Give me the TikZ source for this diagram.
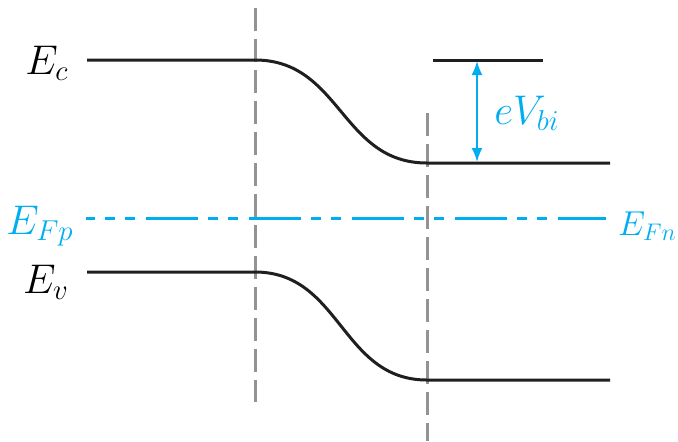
\documentclass[tikz,border=0pt]{standalone}
\usepackage{amsmath,amssymb}
\usepackage{tikz}
\usetikzlibrary{arrows.meta,calc,positioning}
\definecolor{bandblue}{RGB}{0,174,239}

\begin{document}
\begin{tikzpicture}[x=0.5pt, y=-0.5pt,
  level/.style={line width=1.5pt, black!88},
  border/.style={line width=1.5pt, gray!85, dash pattern=on 11.5pt off 4pt},
  fermi/.style={line width=1.5pt, bandblue, dash pattern=on 26pt off 5pt on 5pt off 5pt on 5pt off 5.5pt, dash phase=21.5pt},
  lbl/.style={font=\fontsize{20}{24}\selectfont, inner sep=0pt}]
\useasboundingbox (0,0) rectangle (678,441);

% Diagramma a bande della giunzione pn
\coordinate (ec0) at (87,60);   \coordinate (ec1) at (255,60);
\coordinate (ec2) at (427,163); \coordinate (ec3) at (610,163);
\coordinate (ev0) at (87,272);  \coordinate (ev1) at (255,272);
\coordinate (ev2) at (427,380); \coordinate (ev3) at (610,380);
\coordinate (en0) at (433,60);  \coordinate (en1) at (543,60);
\coordinate (ef0) at (86,218);  \coordinate (ef1) at (606,218);

\draw[border] (255,8) -- (255,402);
\draw[border] (427,113) -- (427,441);

\draw[level] (ec0) -- (ec1) .. controls (341,60) and (341,163) .. (ec2) -- (ec3);
\draw[level] (ev0) -- (ev1) .. controls (341,272) and (341,380) .. (ev2) -- (ev3);
\draw[level] (en0) -- (en1);
\draw[fermi] (ef0) -- (ef1);

\draw[{Latex[length=7pt,width=5.5pt]}-{Latex[length=7pt,width=5.5pt]}, line width=1pt, bandblue]
  (477,61) -- (477,162);

\node[lbl] (Ec)  at (47,63)  {$E_c$};
\node[lbl] (Ev)  at (46,282) {$E_v$};
\node[lbl, bandblue] (EFp) at (40,226) {$E_{Fp}$};
\node[lbl, bandblue, anchor=east, font=\fontsize{18}{22}\selectfont] (EFn) at (677,226) {$E_{Fn}$};
\node[lbl, bandblue] (Vbi) at (527,113) {$eV_{bi}$};

\end{tikzpicture}
\end{document}
